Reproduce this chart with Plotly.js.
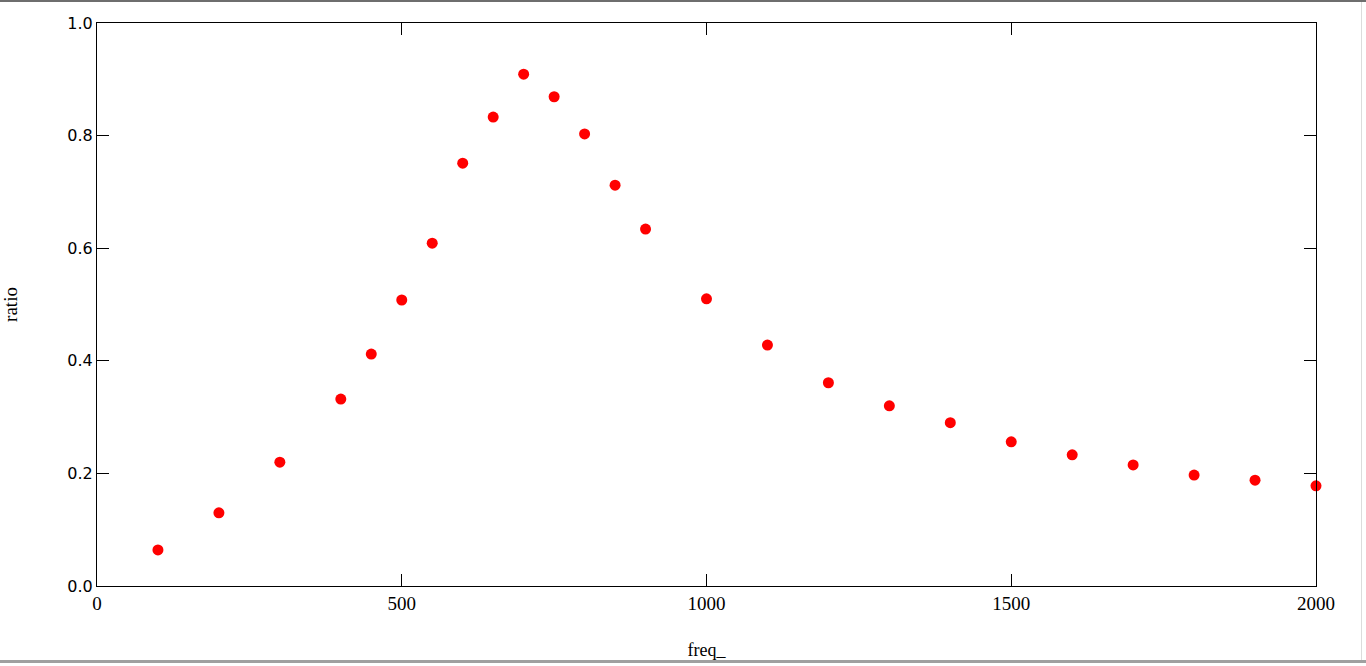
<!DOCTYPE html>
<html>
<head>
<meta charset="utf-8">
<script src="https://cdn.plot.ly/plotly-3.0.1.min.js"></script>
<style>
html,body{margin:0;padding:0;background:#fff;overflow:hidden;}
#chart{width:1366px;height:666px;}
.bt{position:absolute;left:0;top:0;width:1366px;height:2px;background:#6e6e6e;}
.bb{position:absolute;left:0;top:660px;width:1366px;height:3px;background:#a0a0a0;}
.br{position:absolute;left:1361px;top:2px;width:1px;height:658px;background:#dcdcdc;}
</style>
</head>
<body>
<div id="chart"></div>
<div class="bt"></div><div class="bb"></div><div class="br"></div>
<script>
const freq = [100, 200, 300, 400, 450, 500, 550, 600, 650, 700, 750, 800, 850, 900, 1000, 1100, 1200, 1300, 1400, 1500, 1600, 1700, 1800, 1900, 2000];
const ratio = [0.064, 0.130, 0.220, 0.332, 0.412, 0.508, 0.609, 0.751, 0.833, 0.909, 0.869, 0.803, 0.712, 0.634, 0.510, 0.428, 0.361, 0.320, 0.290, 0.256, 0.233, 0.215, 0.197, 0.188, 0.178];
const xTicks = [0, 500, 1000, 1500, 2000];
const yTicks = [0, 0.2, 0.4, 0.6, 0.8, 1.0];

const trace = {
  x: freq, y: ratio, type: 'scatter', mode: 'markers',
  marker: {color: '#ff0000', size: 11},
  cliponaxis: false, hoverinfo: 'none'
};
const axisCommon = {
  showgrid: false, zeroline: false, showline: true, linecolor: '#000', linewidth: 1,
  mirror: 'ticks', ticks: 'inside', ticklen: 12, tickwidth: 1, tickcolor: '#000'
};
const layout = {
  width: 1366, height: 666,
  margin: {l: 97, r: 50, t: 23, b: 80},
  paper_bgcolor: '#fff', plot_bgcolor: '#fff',
  showlegend: false,
  xaxis: Object.assign({}, axisCommon, {
    range: [0, 2000], tickvals: xTicks, ticktext: xTicks.map(String),
    tickfont: {family: 'Liberation Serif', size: 19, color: '#000'},
    title: {text: 'freq_', font: {family: 'Liberation Serif', size: 18, color: '#000'}, standoff: 30}
  }),
  yaxis: Object.assign({}, axisCommon, {
    range: [0, 1], tickvals: yTicks, ticktext: yTicks.map(v => v.toFixed(1)),
    tickfont: {family: 'DejaVu Sans', size: 16, color: '#000'},
    title: {text: 'ratio', font: {family: 'Liberation Serif', size: 19, color: '#000'}, standoff: 44}
  })
};
Plotly.newPlot('chart', [trace], layout, {displayModeBar: false, staticPlot: true});
</script>
</body>
</html>
